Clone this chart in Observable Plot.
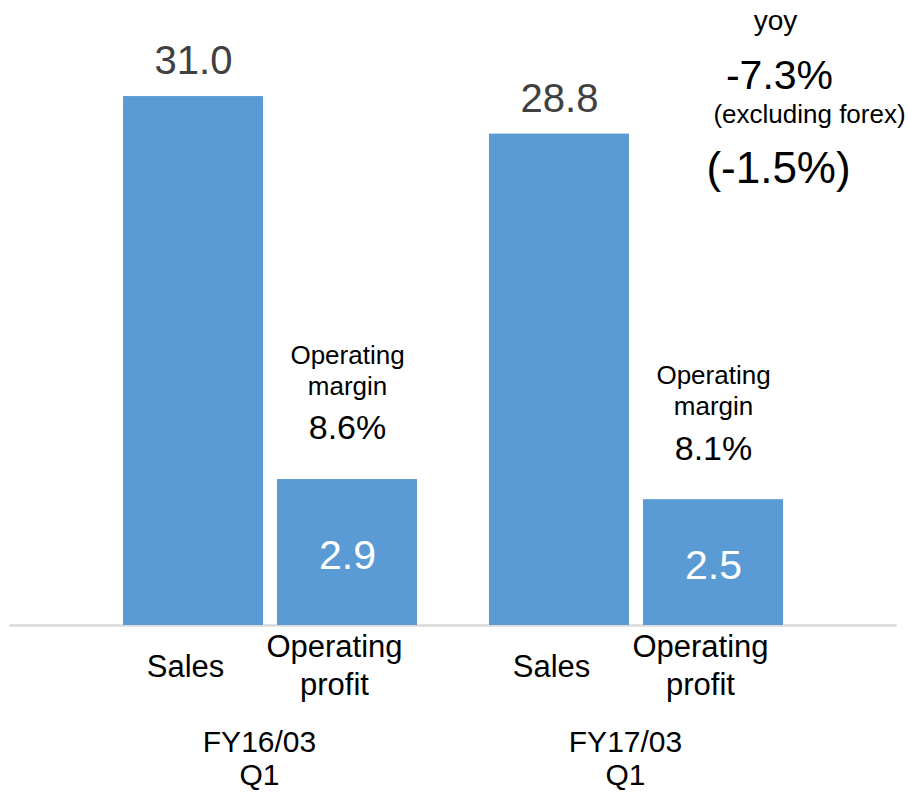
<!DOCTYPE html>
<html>
<head>
<meta charset="utf-8">
<script src="https://cdn.jsdelivr.net/npm/d3@7"></script>
<script src="https://cdn.jsdelivr.net/npm/@observablehq/plot@0.6"></script>
<style>
  html, body { margin: 0; padding: 0; background: #fff; }
  #chart svg { display: block; }
</style>
</head>
<body>
<div id="chart"></div>
<script>
// ---- data ----
const periods = ["FY16/03\nQ1", "FY17/03\nQ1"];
const kinds = ["Sales", "Operating profit"];
const kindLabels = ["Sales", "Operating\nprofit"];
const sales = [31.0, 28.8];
const operatingProfit = [2.9, 2.5];
const operatingMargin = ["8.6%", "8.1%"];
const yoyLines = ["yoy", "-7.3%", "(excluding forex)", "(-1.5%)"];

// The original draws operating profit on its own (enlarged) scale
const opDisplayScale = 2.95;

const rows = periods.flatMap((p, i) => [
  {period: p, kind: kinds[0], value: sales[i], display: sales[i]},
  {period: p, kind: kinds[1], value: operatingProfit[i], display: operatingProfit[i] * opDisplayScale, margin: operatingMargin[i]}
]);
const salesRows = rows.filter(d => d.kind === kinds[0]);
const opRows = rows.filter(d => d.kind === kinds[1]);
const axisRows = periods.flatMap(p => kinds.map((k, j) => ({period: p, kind: k, label: kindLabels[j]})));

const yoyStyle = [
  {size: 28, dx: 62, dy: 21},
  {size: 41, dx: 66, dy: 75},
  {size: 26, dx: 96, dy: 114},
  {size: 44, dx: 65, dy: 168}
];

const font = "'Liberation Sans', Arial, sans-serif";

const marks = [
  Plot.frame({facet: "super", anchor: "bottom", stroke: "#D9D9D9", strokeWidth: 2.5, insetLeft: -113, insetRight: -112}),
  Plot.barY(rows, {fx: "period", x: "kind", y: "display", fill: "#5B9BD5"}),
  Plot.text(salesRows, {fx: "period", x: "kind", y: "display", text: d => d.value.toFixed(1),
    dy: -35, fontSize: 40, fill: "#404040", lineAnchor: "middle"}),
  Plot.text(opRows, {fx: "period", x: "kind", y: d => d.display / 2, text: d => d.value.toFixed(1),
    dy: 3, fontSize: 41, fill: "#ffffff", lineAnchor: "middle"}),
  Plot.text(opRows, {fx: "period", x: "kind", y: "display", text: () => "Operating\nmargin",
    dy: -110, fontSize: 26, lineHeight: 1.18, fill: "#000", lineAnchor: "middle"}),
  Plot.text(opRows, {fx: "period", x: "kind", y: "display", text: "margin",
    dy: -51, fontSize: 34, fill: "#000", lineAnchor: "middle"}),
  Plot.text(axisRows.filter(d => d.kind === kinds[0]), {fx: "period", x: "kind", text: "label", frameAnchor: "bottom",
    dy: 39, dx: -8, fontSize: 31, lineHeight: 1.25, fill: "#000", lineAnchor: "middle"}),
  Plot.text(axisRows.filter(d => d.kind === kinds[1]), {fx: "period", x: "kind", text: "label", frameAnchor: "bottom",
    dy: 38, dx: -13, fontSize: 31, lineHeight: 1.25, fill: "#000", lineAnchor: "middle"}),
  Plot.text(periods, {fx: d => d, text: d => d, frameAnchor: "bottom",
    dy: 132, dx: -11, fontSize: 30, lineHeight: 1.1, fill: "#000", lineAnchor: "middle"})
];
yoyLines.forEach((t, i) => {
  marks.push(Plot.text([t], {fx: () => periods[1], x: () => kinds[1], text: d => d, frameAnchor: "top",
    dx: yoyStyle[i].dx, dy: yoyStyle[i].dy, fontSize: yoyStyle[i].size, fill: "#000", lineAnchor: "middle"}));
});

const chart = Plot.plot({
  width: 908,
  height: 792,
  marginTop: 0,
  marginBottom: 167,
  marginLeft: 10,
  marginRight: 13,
  style: {fontFamily: font, background: "#fff", overflow: "visible"},
  fx: {domain: periods, paddingInner: 72 / 366, paddingOuter: 0.307, axis: null, label: null},
  x: {domain: kinds, paddingInner: 14 / 154, paddingOuter: 0, axis: null, label: null},
  y: {domain: [0, 36.63], axis: null, label: null},
  marks
});
document.getElementById("chart").appendChild(chart);
</script>
</body>
</html>
